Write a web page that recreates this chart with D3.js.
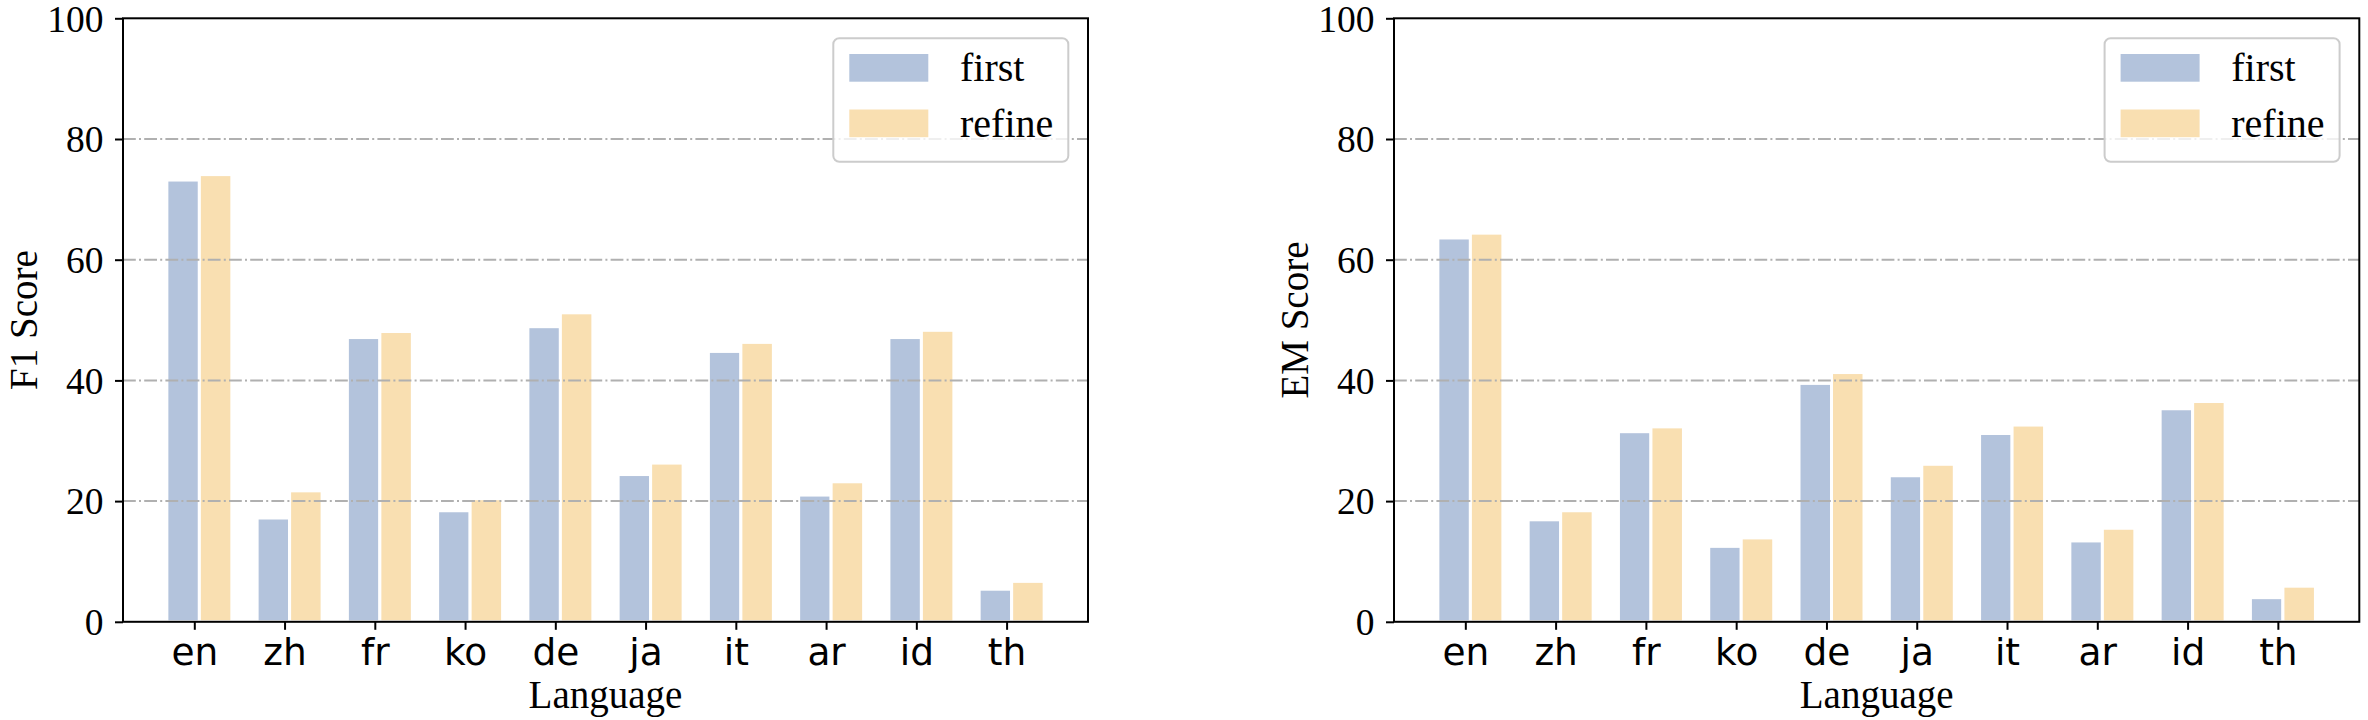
<!DOCTYPE html>
<html>
<head>
<meta charset="utf-8">
<script src="https://cdn.jsdelivr.net/npm/d3@7"></script>
<style>
  html, body { margin: 0; padding: 0; background: #fff; }
  svg { display: block; }
  .serif { font-family: "Liberation Serif", "Times New Roman", serif; }
  .sans { font-family: "DejaVu Sans", sans-serif; }
</style>
</head>
<body>
<div id="chart"></div>
<script>
// Two grouped bar panels: F1 and EM per language, first pass vs refined.
const languages = ['en', 'zh', 'fr', 'ko', 'de', 'ja', 'it', 'ar', 'id', 'th'];
const f1First  = [73.2, 17.2, 47.1, 18.4, 48.9, 24.4, 44.8, 21.0, 47.1, 5.4];
const f1Refine = [74.1, 21.7, 48.1, 20.4, 51.2, 26.3, 46.3, 23.2, 48.3, 6.7];
const emFirst  = [63.6, 16.9, 31.5, 12.5, 39.5, 24.2, 31.2, 13.4, 35.3, 4.0];
const emRefine = [64.4, 18.4, 32.3, 13.9, 41.3, 26.1, 32.6, 15.5, 36.5, 5.9];
const yTicks = [0, 20, 40, 60, 80, 100];
const gridTicks = [20, 40, 60, 80];
const seriesNames = ['first', 'refine'];

const colors = { first: '#b3c3dc', refine: '#f9dfb1' };
const W = 2368, H = 720;
const plotTop = 18.3, plotBottom = 621.8;
const tickFont = 37.5;
const labelFont = 39;

const svg = d3.select('#chart').append('svg')
    .attr('width', W)
    .attr('height', H);

// bar layout in category units: tick sits at i, bars are offset to the left
const barW = 0.36;
const barOffset = -0.304;

function drawPanel(left, right, first, refine, yLabel) {
    const g = svg.append('g');

    const x = d3.scaleLinear().domain([-0.79, 9.902]).range([left, right]);
    const y = d3.scaleLinear().domain([0, 100]).range([plotBottom, plotTop]);

    const rows = languages.map((lang, i) => ({ i, lang, first: first[i], refine: refine[i] }));

    // bars
    seriesNames.forEach((key, k) => {
        g.selectAll('.bar-' + key).data(rows).enter().append('rect')
            .attr('class', 'bar-' + key)
            .attr('x', d => x(d.i + barOffset + k * barW))
            .attr('width', x(barW) - x(0))
            .attr('y', d => y(d[key]))
            .attr('height', d => y(0) - y(d[key]))
            .attr('fill', colors[key])
            .attr('stroke', '#fff')
            .attr('stroke-width', 3);
    });

    // dash-dot grid, drawn over the bars
    g.selectAll('.grid').data(gridTicks).enter().append('line')
        .attr('class', 'grid')
        .attr('x1', left).attr('x2', right)
        .attr('y1', d => y(d)).attr('y2', d => y(d))
        .attr('stroke', '#b0b0b0')
        .attr('stroke-width', 2)
        .attr('stroke-dasharray', '12.8,3.2,2,3.2');

    // axes
    const yAxis = g.append('g')
        .attr('transform', `translate(${left},0)`)
        .call(d3.axisLeft(y).tickValues(yTicks).tickFormat(d3.format('d')).tickSize(8).tickPadding(11.5));
    yAxis.select('.domain').remove();
    yAxis.selectAll('line').attr('stroke', '#000').attr('stroke-width', 2);
    yAxis.selectAll('text')
        .attr('class', 'serif')
        .attr('font-size', tickFont)
        .attr('fill', '#000')
        .attr('dy', '0.34em');

    const xAxis = g.append('g')
        .attr('transform', `translate(0,${plotBottom})`)
        .call(d3.axisBottom(x).tickValues(d3.range(languages.length)).tickFormat(i => languages[i]).tickSize(8));
    xAxis.select('.domain').remove();
    xAxis.selectAll('line').attr('stroke', '#000').attr('stroke-width', 2);
    xAxis.selectAll('text')
        .attr('class', 'sans')
        .attr('font-size', tickFont)
        .attr('fill', '#000')
        .attr('dy', null)
        .attr('y', 43.5);

    // frame
    g.append('rect')
        .attr('x', left).attr('y', plotTop)
        .attr('width', right - left).attr('height', plotBottom - plotTop)
        .attr('fill', 'none')
        .attr('stroke', '#000')
        .attr('stroke-width', 2);

    // axis labels
    g.append('text')
        .attr('class', 'serif')
        .attr('x', (left + right) / 2)
        .attr('y', 708)
        .attr('text-anchor', 'middle')
        .attr('font-size', labelFont)
        .text('Language');

    g.append('text')
        .attr('class', 'serif')
        .attr('transform', `translate(${left - 86},${(plotTop + plotBottom) / 2}) rotate(-90)`)
        .attr('text-anchor', 'middle')
        .attr('font-size', labelFont)
        .text(yLabel);

    // legend
    const boxW = 235, boxH = 123.4;
    const lg = g.append('g')
        .attr('transform', `translate(${right - 19.7 - boxW},${plotTop + 20})`);
    lg.append('rect')
        .attr('width', boxW).attr('height', boxH)
        .attr('rx', 6).attr('ry', 6)
        .attr('fill', '#fff').attr('fill-opacity', 0.8)
        .attr('stroke', '#cccccc').attr('stroke-width', 2);
    seriesNames.forEach((key, k) => {
        const row = lg.append('g').attr('transform', `translate(16,${15.7 + k * 55.5})`);
        row.append('rect')
            .attr('width', 79).attr('height', 27.7)
            .attr('fill', colors[key]);
        row.append('text')
            .attr('class', 'serif')
            .attr('x', 110.7)
            .attr('y', 27)
            .attr('font-size', labelFont + 1)
            .text(key);
    });
}

drawPanel(123, 1088, f1First, f1Refine, 'F1 Score');
drawPanel(1394, 2359.3, emFirst, emRefine, 'EM Score');
</script>
</body>
</html>
